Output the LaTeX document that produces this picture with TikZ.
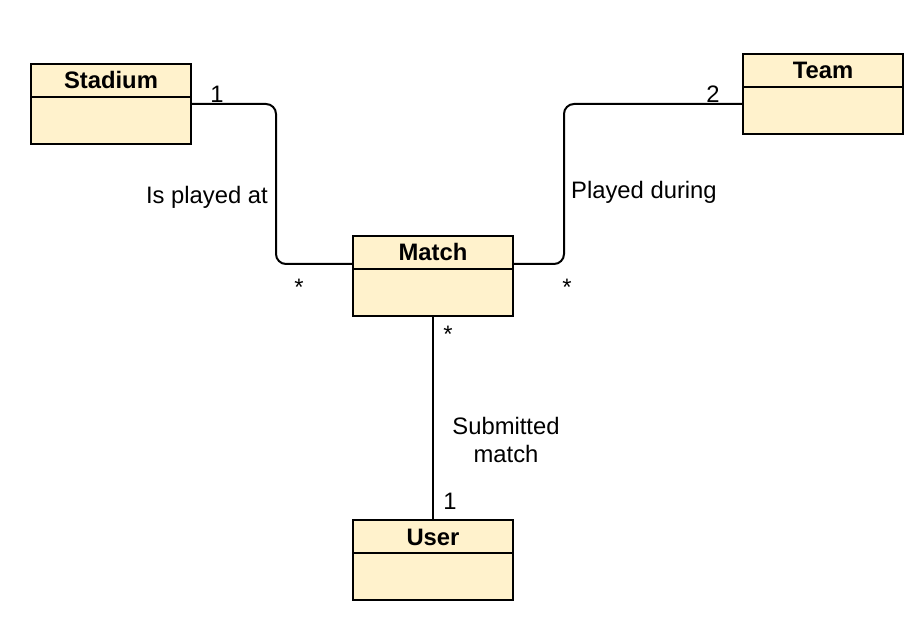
\documentclass[tikz,border=0pt]{standalone}
\usepackage{fontspec}
\setmainfont{Liberation Sans}
\definecolor{classfill}{HTML}{FFF2CC}
\tikzset{
  classbox/.style={draw=black, line width=2pt, fill=classfill, minimum width=160pt, minimum height=80pt, inner sep=0pt},
  classtitle/.style={font=\fontsize{23.8}{28}\selectfont\bfseries, inner sep=0pt, anchor=base},
  conn/.style={line width=2pt, rounded corners=10pt},
  lbl/.style={font=\fontsize{23.8}{28}\selectfont, inner sep=0pt},
}
\newcommand{\umlclass}[3]{%
  \node[classbox] (#1) at (#2) {};
  \node[classtitle] (#1T) at ([yshift=-26pt]#1.north) {#3};
  \draw[line width=2pt] ([yshift=-34pt]#1.north west) -- ([yshift=-34pt]#1.north east);
}
\begin{document}
\begin{tikzpicture}[x=1pt, y=-1pt]
\useasboundingbox (0,0) rectangle (919,631);
\umlclass{stadium}{111,104}{Stadium}
\umlclass{team}{823,94}{Team}
\umlclass{match}{433,276}{Match}
\umlclass{user}{433,560}{User}

\draw[conn] (stadium.east) -- ++(84,0) |- ([yshift=12pt]match.west);
\draw[conn] ([yshift=-10pt]team.west) -- ++(-178,0) |- ([yshift=12pt]match.east);
\draw[conn] (match.south) -- (user.north);

\node[lbl, anchor=base] (m1) at (217,103) {1};
\node[lbl, anchor=base] (m2) at (299,295) {*};
\node[lbl, anchor=base east] (l1) at (268,204) {Is played at};
\node[lbl, anchor=base] (m3) at (713,103) {2};
\node[lbl, anchor=base] (m4) at (567,296) {*};
\node[lbl, anchor=base west] (l2) at (571,199) {Played during};
\node[lbl, anchor=base] (m5) at (448,342) {*};
\node[lbl, anchor=base] (l3a) at (506,434) {Submitted};
\node[lbl, anchor=base] (l3b) at (506,462) {match};
\node[lbl, anchor=base] (m6) at (450,509) {1};
\end{tikzpicture}
\end{document}
